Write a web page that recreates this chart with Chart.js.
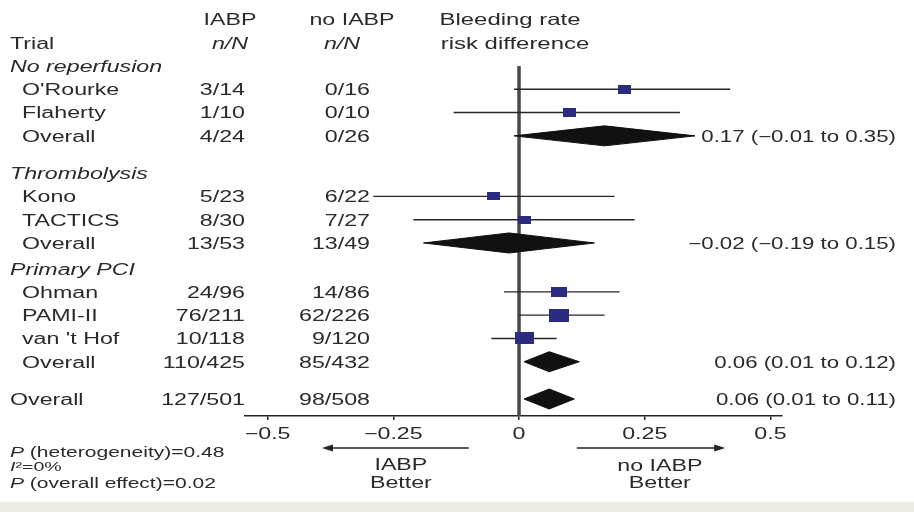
<!DOCTYPE html>
<html><head><meta charset="utf-8">
<script src="https://cdn.jsdelivr.net/npm/chart.js@4.4.1/dist/chart.umd.min.js"></script>
<style>html,body{margin:0;padding:0;background:#fff;} #wrap{width:914px;height:512px;position:relative;}</style>
</head><body><div id="wrap"><canvas id="c" width="914" height="512"></canvas></div>
<script>
// ---- data ----
const groupNames = ["No reperfusion", "Thrombolysis", "Primary PCI"];
const trialNames = ["O'Rourke", "Flaherty", "Kono", "TACTICS", "Ohman", "PAMI-II", "van 't Hof"];
const trialGroup = [0, 0, 1, 1, 2, 2, 2];
const trialIABP = ["3/14", "1/10", "5/23", "8/30", "24/96", "76/211", "10/118"];
const trialNoIABP = ["0/16", "0/10", "6/22", "7/27", "14/86", "62/226", "9/120"];
const trialRD = [0.21, 0.10, -0.05, 0.01, 0.08, 0.08, 0.01];
const trialLow = [-0.01, -0.13, -0.29, -0.21, -0.03, 0.00, -0.055];
const trialHigh = [0.42, 0.32, 0.19, 0.23, 0.20, 0.17, 0.075];
const trialWeight = [4, 4, 3, 3, 9, 22, 17];
const groupIABP = ["4/24", "13/53", "110/425"];
const groupNoIABP = ["0/26", "13/49", "85/432"];
const groupRD = [0.17, -0.02, 0.06];
const groupLow = [-0.01, -0.19, 0.01];
const groupHigh = [0.35, 0.15, 0.12];
const totalIABP = "127/501";
const totalNoIABP = "98/508";
const totalRD = 0.06, totalLow = 0.01, totalHigh = 0.11;
const xTicks = [-0.5, -0.25, 0, 0.25, 0.5];
const xTickLabels = ["\u22120.5", "\u22120.25", "0", "0.25", "0.5"];
const footnotes = ["P (heterogeneity)=0.48", "I\u00b2=0%", "P (overall effect)=0.02"];

// ---- row layout (row units on the y scale) ----
const gapAfter = [1.6, 1.1, 1.6];
const headerY = [], trialY = [], groupY = [];
let yy = -1;
groupNames.forEach((g, gi) => {
  headerY[gi] = yy; yy += 1;
  trialNames.forEach((t, i) => { if (trialGroup[i] === gi) { trialY[i] = yy; yy += 1; } });
  groupY[gi] = yy; yy += gapAfter[gi];
});
const totalY = yy;
const Y_MIN = -1, Y_MAX = 14.03;
const DH = 0.43;

function fmt(v) { const s = Math.abs(v).toFixed(2); return (v < 0 ? "\u2212" : "") + s; }
function ciText(e, l, h) { return fmt(e) + " (" + fmt(l) + " to " + fmt(h) + ")"; }

function rectImg(w, h, color) {
  const c = document.createElement('canvas');
  c.width = Math.round(w); c.height = Math.round(h);
  const x = c.getContext('2d'); x.fillStyle = color; x.fillRect(0, 0, c.width, c.height);
  return c;
}
const sqImgs = trialWeight.map(w => { const s = 8 + 2.6 * Math.sqrt(w); return rectImg(s, s * 0.65, '#2b2b80'); });

const datasets = [];
datasets.push({ data: [{ x: 0, y: Y_MIN }, { x: 0, y: Y_MAX }], showLine: true, borderColor: '#4a4a4a', borderWidth: 3.5, pointRadius: 0, order: 10 });
trialNames.forEach((t, i) => {
  datasets.push({ data: [{ x: trialLow[i], y: trialY[i] }, { x: trialHigh[i], y: trialY[i] }], showLine: true, borderColor: '#262626', borderWidth: 1.4, pointRadius: 0, order: 5 });
});
function diamond(e, l, h, y) {
  return { data: [{ x: l, y: y }, { x: e, y: y - DH }, { x: h, y: y }, { x: e, y: y + DH }, { x: l, y: y }],
    showLine: true, fill: 'shape', backgroundColor: '#111', borderColor: '#111', borderWidth: 1, pointRadius: 0, tension: 0, order: 4 };
}
groupNames.forEach((g, gi) => datasets.push(diamond(groupRD[gi], groupLow[gi], groupHigh[gi], groupY[gi])));
datasets.push(diamond(totalRD, totalLow, totalHigh, totalY));
datasets.push({ data: trialRD.map((v, i) => ({ x: v, y: trialY[i] })), showLine: false, pointRadius: 5,
  pointStyle: ctx => sqImgs[ctx.dataIndex], order: 0 });

const SX = 1.45;
const FONT = '"Liberation Sans", Arial, sans-serif';
const DY = 1.5;
function txt(ctx, s, x, y, o) {
  o = o || {};
  ctx.save(); ctx.translate(x, y + DY); ctx.scale(o.sx || SX, 1);
  ctx.font = (o.style || '') + ' ' + (o.size || 16) + 'px ' + FONT;
  ctx.textAlign = o.align || 'left'; ctx.textBaseline = 'middle';
  ctx.fillStyle = o.color || '#2a2a2a'; ctx.fillText(s, 0, 0); ctx.restore();
}
function arrow(ctx, x1, x2, y) {
  const dir = Math.sign(x2 - x1);
  ctx.save(); ctx.strokeStyle = '#222'; ctx.fillStyle = '#222'; ctx.lineWidth = 1.5;
  ctx.beginPath(); ctx.moveTo(x1, y); ctx.lineTo(x2 - dir * 8, y); ctx.stroke();
  ctx.beginPath(); ctx.moveTo(x2, y); ctx.lineTo(x2 - dir * 11, y - 3.5); ctx.lineTo(x2 - dir * 11, y + 3.5); ctx.closePath(); ctx.fill();
  ctx.restore();
}

const textPlugin = {
  id: 'forestText',
  beforeDraw(chart) {
    const ctx = chart.ctx;
    ctx.save(); ctx.fillStyle = '#fff'; ctx.fillRect(0, 0, chart.width, chart.height);
    ctx.fillStyle = '#ecebe5'; ctx.fillRect(0, 502, chart.width, 10); ctx.restore();
  },
  afterDraw(chart) {
    const ctx = chart.ctx, ys = chart.scales.y, xs = chart.scales.x;
    const Y = v => ys.getPixelForValue(v);
    const colA = 245, colB = 370, colName = 22, colLeft = 10, colRight = 896;
    // headers
    txt(ctx, "IABP", 230, Y(-3), { align: 'center' });
    txt(ctx, "no IABP", 352, Y(-3), { align: 'center' });
    txt(ctx, "Bleeding rate", 510, Y(-3), { align: 'center', size: 16.5 });
    txt(ctx, "Trial", colLeft, Y(-2));
    txt(ctx, "n/N", 230, Y(-2), { align: 'center', style: 'italic' });
    txt(ctx, "n/N", 342, Y(-2), { align: 'center', style: 'italic' });
    txt(ctx, "risk difference", 515, Y(-2), { align: 'center', size: 16.5 });
    groupNames.forEach((g, gi) => {
      txt(ctx, g, colLeft, Y(headerY[gi]), { style: 'italic' });
      txt(ctx, "Overall", colName, Y(groupY[gi]));
      txt(ctx, groupIABP[gi], colA, Y(groupY[gi]), { align: 'right' });
      txt(ctx, groupNoIABP[gi], colB, Y(groupY[gi]), { align: 'right' });
      txt(ctx, ciText(groupRD[gi], groupLow[gi], groupHigh[gi]), colRight, Y(groupY[gi]), { align: 'right', sx: 1.39 });
    });
    trialNames.forEach((t, i) => {
      txt(ctx, t, colName, Y(trialY[i]));
      txt(ctx, trialIABP[i], colA, Y(trialY[i]), { align: 'right' });
      txt(ctx, trialNoIABP[i], colB, Y(trialY[i]), { align: 'right' });
    });
    txt(ctx, "Overall", colLeft, Y(totalY));
    txt(ctx, totalIABP, colA, Y(totalY), { align: 'right' });
    txt(ctx, totalNoIABP, colB, Y(totalY), { align: 'right' });
    txt(ctx, ciText(totalRD, totalLow, totalHigh), colRight, Y(totalY), { align: 'right', sx: 1.39 });
    // tick labels from the scale's ticks
    xs.ticks.forEach((tk) => {
      const idx = xTicks.indexOf(tk.value);
      txt(ctx, idx >= 0 ? xTickLabels[idx] : String(tk.value), xs.getPixelForValue(tk.value), 433, { align: 'center' });
    });
    // arrows & direction labels
    arrow(ctx, xs.getPixelForValue(-0.10), xs.getPixelForValue(-0.392), 448);
    arrow(ctx, xs.getPixelForValue(0.115), xs.getPixelForValue(0.41), 448);
    const lc = xs.getPixelForValue(-0.235), rc = xs.getPixelForValue(0.28);
    txt(ctx, "IABP", lc, 464, { align: 'center' });
    txt(ctx, "Better", lc, 482, { align: 'center' });
    txt(ctx, "no IABP", rc, 465, { align: 'center' });
    txt(ctx, "Better", rc, 482, { align: 'center' });
    // footnotes
    const fy = [451, 466, 482];
    ctx.save(); ctx.font = 'italic 14.5px ' + FONT; const pw = ctx.measureText("P").width * SX; ctx.restore();
    txt(ctx, "P", colLeft, fy[0], { size: 14.5, style: 'italic' });
    txt(ctx, footnotes[0].slice(1), colLeft + pw, fy[0], { size: 14.5 });
    ctx.save(); ctx.font = 'italic 13.5px ' + FONT; const iw = ctx.measureText("I").width * SX; ctx.restore();
    txt(ctx, "I", colLeft, fy[1], { size: 13.5, style: 'italic' });
    txt(ctx, footnotes[1].slice(1), colLeft + iw, fy[1], { size: 13.5 });
    txt(ctx, "P", colLeft, fy[2], { size: 14.5, style: 'italic' });
    txt(ctx, footnotes[2].slice(1), colLeft + pw, fy[2], { size: 14.5 });
  }
};

new Chart(document.getElementById('c'), {
  type: 'scatter',
  data: { datasets: datasets },
  plugins: [textPlugin],
  options: {
    responsive: false, animation: false, events: [],
    layout: { padding: { left: 245, right: 132, top: 66, bottom: 92 } },
    plugins: { legend: { display: false }, tooltip: { enabled: false } },
    scales: {
      x: { type: 'linear', min: -0.545, max: 0.523,
        afterBuildTicks: s => { s.ticks = xTicks.map(v => ({ value: v })); },
        ticks: { display: false },
        grid: { display: true, drawOnChartArea: false, drawTicks: true, tickLength: 4, color: '#222', lineWidth: 1.5 },
        border: { display: true, color: '#222', width: 1.5 } },
      y: { type: 'linear', reverse: true, min: Y_MIN, max: Y_MAX, display: false }
    }
  }
});
</script></body></html>
